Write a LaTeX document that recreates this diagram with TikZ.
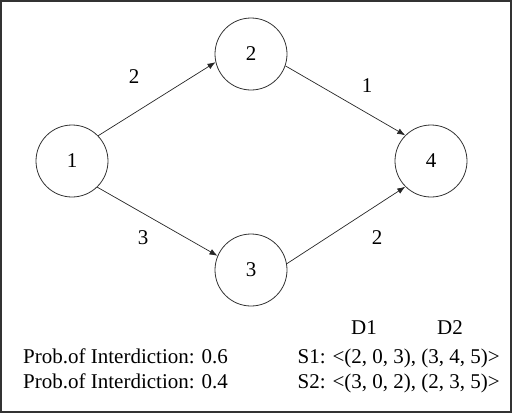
\documentclass[tikz,border=0pt]{standalone}
\usepackage{fontspec}
\setmainfont{Liberation Serif}
\usetikzlibrary{arrows.meta}

\begin{document}
\begin{tikzpicture}[x=1pt,y=-1pt,>={Latex[length=8pt,width=6pt]},font=\fontsize{21}{25}\selectfont,
 vertex/.style={draw=black!80,circle,minimum size=72pt,inner sep=0pt,line width=0.8pt},
 arrow/.style={->,line width=0.7pt,draw=black!85},
 weight/.style={inner sep=0pt},
 legend/.style={inner sep=0pt}]
\useasboundingbox (0,0) rectangle (512,413);
\draw[black!80,line width=2pt] (1,1) rectangle (511,412);
% network
\node[vertex] (v1) at (72,161) {1};
\node[vertex] (v2) at (251,54) {2};
\node[vertex] (v3) at (251,270) {3};
\node[vertex] (v4) at (431,161) {4};
\draw[arrow] (v1.44) -- (v2.193);
\draw[arrow] (v2.341) -- (v4.135);
\draw[arrow] (v1.314) -- (v3.157);
\draw[arrow] (v3.10) -- (v4.225);
\node[weight] (w12) at (134,77) {2};
\node[weight] (w24) at (367,86) {1};
\node[weight] (w13) at (143,238) {3};
\node[weight] (w34) at (377,238) {2};
% scenarios
\node[legend,anchor=base] (d1) at (364,334) {D1};
\node[legend,anchor=base] (d2) at (450,334) {D2};
\node[legend,anchor=base west] (p1) at (23,363) {Prob.of Interdiction: 0.6};
\node[legend,anchor=base west] (p2) at (23,388) {Prob.of Interdiction: 0.4};
\node[legend,anchor=base east] (s1) at (500,363) {S1: <(2, 0, 3), (3, 4, 5)>};
\node[legend,anchor=base east] (s2) at (500,388) {S2: <(3, 0, 2), (2, 3, 5)>};
\end{tikzpicture}
\end{document}
